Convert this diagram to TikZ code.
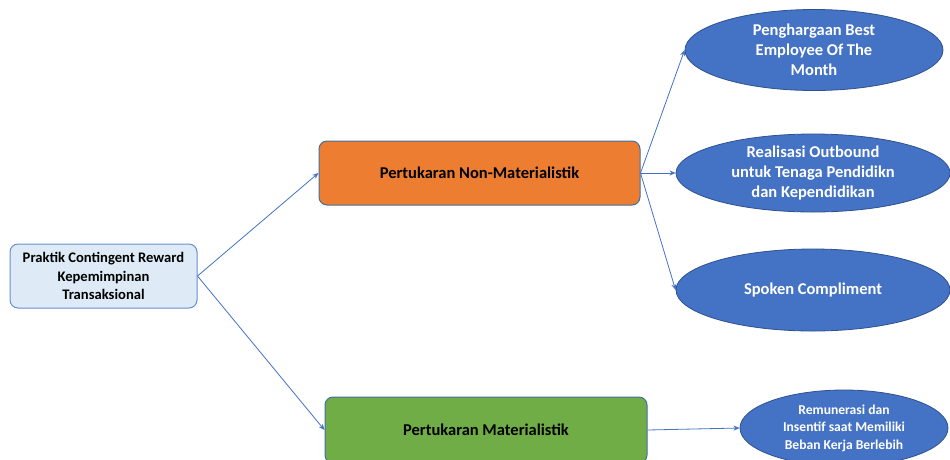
\documentclass[tikz,border=0pt]{standalone}
\usepackage{fontspec}
\setmainfont{Carlito}
\usetikzlibrary{shapes.geometric,arrows.meta}
\definecolor{oblue}{HTML}{4472C4}
\definecolor{edgeblue}{HTML}{41719C}
\definecolor{lightbox}{HTML}{DEEBF7}
\definecolor{oorange}{HTML}{ED7D31}
\definecolor{ogreen}{HTML}{70AD47}
\definecolor{ellblue}{HTML}{4472C4}
\definecolor{elledge}{HTML}{2F528F}
\tikzset{
  x=1pt, y=-1pt,
  rbox/.style={draw=edgeblue, line width=1pt, rounded corners=8pt, inner sep=0pt, align=center, font=\bfseries},
  ell/.style={ellipse, draw=elledge, line width=0.8pt, fill=ellblue, text=white, inner sep=0pt, align=center, font=\bfseries},
  conn/.style={draw=oblue, line width=0.8pt, -{Stealth[length=6pt,width=5pt]}}
}
\begin{document}
\begin{tikzpicture}
\useasboundingbox (0,0) rectangle (950,459);
\clip (0,0) rectangle (950,459);
\fill[white] (0,0) rectangle (950,459);
% boxes
\node[rbox, fill=lightbox, draw=oblue!80, minimum width=187pt, minimum height=64pt, font=\bfseries\fontsize{14.6}{18.5}\selectfont] (root) at (103.5,276) {Praktik Contingent Reward\\Kepemimpinan\\Transaksional};
\node[rbox, fill=oorange, minimum width=321pt, minimum height=64pt, font=\bfseries\fontsize{16.5}{18}\selectfont] (nonmat) at (479.5,173) {Pertukaran Non-Materialistik};
\node[rbox, fill=ogreen, minimum width=322pt, minimum height=66pt, font=\bfseries\fontsize{16.5}{18}\selectfont] (mat) at (486,430) {Pertukaran Materialistik};
% ellipses
\node[ell, minimum width=258pt, minimum height=81pt, font=\bfseries\fontsize{16.5}{20}\selectfont] (e1) at (814,50) {Penghargaan Best\\Employee Of The\\Month};
\node[ell, minimum width=274pt, minimum height=78pt, font=\bfseries\fontsize{16.5}{20}\selectfont] (e2) at (813,173) {Realisasi Outbound\\untuk Tenaga Pendidikn\\dan Kependidikan};
\node[ell, minimum width=274pt, minimum height=82pt, font=\bfseries\fontsize{16.5}{20}\selectfont] (e3) at (813,290) {Spoken Compliment};
\node[ell, minimum width=208pt, minimum height=76pt, font=\bfseries\fontsize{13.6}{17.5}\selectfont] (e4) at (844,428) {Remunerasi dan\\Insentif saat Memiliki\\Beban Kerja Berlebih};
% connectors
\draw[conn] (root.east) -- (nonmat.west);
\draw[conn] (root.east) -- (mat.west);
\draw[conn] (nonmat.east) -- (e1.west);
\draw[conn] (nonmat.east) -- (e2.west);
\draw[conn] (nonmat.east) -- (e3.west);
\draw[conn] (mat.east) -- (e4.west);
\end{tikzpicture}
\end{document}
